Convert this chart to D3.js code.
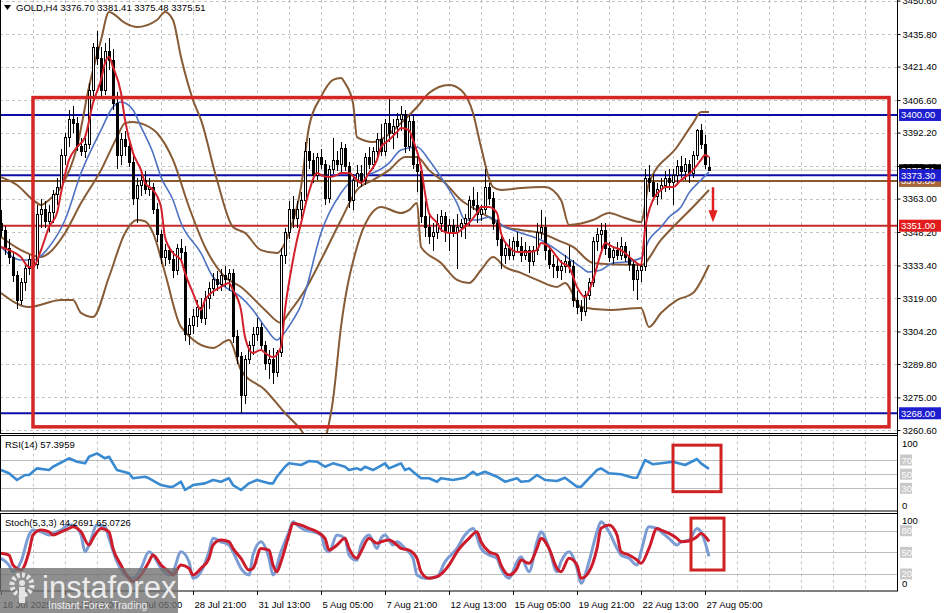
<!DOCTYPE html>
<html><head><meta charset="utf-8">
<script src="https://cdn.jsdelivr.net/npm/d3@7"></script>
<style>body{margin:0;background:#fff;}svg{display:block;font-family:"Liberation Sans",Arial,sans-serif;}</style>
</head><body><svg id="c" width="946" height="613"></svg>
<script>
// ---------------- DATA ----------------
const opens=[3352,3349,3341,3337,3329,3318,3326,3332,3336,3334,3356,3358,3353,3357,3365,3368,3382,3390,3398,3396,3386,3384,3387,3411,3430,3425,3411,3428,3424,3405,3382,3389,3386,3379,3363,3369,3371,3367,3368,3358,3347,3337,3340,3336,3331,3341,3339,3303,3307,3311,3315,3310,3319,3323,3327,3325,3329,3327,3330,3302,3293,3276,3292,3298,3303,3306,3298,3290,3292,3286,3295,3338,3348,3358,3354,3358,3362,3384,3380,3373,3381,3378,3363,3376,3380,3378,3385,3377,3362,3371,3374,3371,3381,3378,3384,3389,3384,3396,3392,3395,3398,3400,3386,3397,3378,3375,3355,3350,3346,3348,3352,3355,3348,3351,3348,3350,3352,3354,3362,3360,3356,3358,3368,3363,3352,3345,3338,3341,3338,3344,3342,3338,3340,3335,3340,3348,3350,3340,3334,3333,3331,3333,3335,3333,3318,3315,3313,3320,3326,3344,3347,3349,3341,3337,3340,3338,3342,3337,3334,3327,3331,3333,3372,3370,3364,3367,3369,3372,3370,3373,3377,3375,3378,3374,3382,3393,3387,3376.70];
const highs=[3358,3351,3345,3340,3331,3328,3334,3338,3340,3360,3363,3362,3360,3367,3372,3385,3392,3402,3404,3399,3390,3390,3414,3432,3437,3430,3432,3434,3429,3410,3392,3393,3390,3382,3372,3374,3375,3372,3370,3361,3349,3343,3342,3340,3343,3345,3342,3310,3314,3318,3319,3322,3326,3330,3331,3332,3333,3332,3332,3305,3295,3294,3300,3306,3310,3308,3300,3296,3297,3296,3341,3350,3362,3364,3362,3366,3388,3390,3383,3383,3385,3380,3378,3390,3384,3388,3387,3379,3374,3378,3378,3383,3386,3386,3392,3396,3398,3408,3398,3401,3404,3402,3400,3400,3382,3376,3362,3356,3352,3356,3358,3357,3354,3354,3356,3354,3356,3364,3368,3366,3360,3376,3370,3366,3354,3348,3344,3345,3346,3348,3346,3344,3342,3342,3352,3358,3355,3342,3338,3337,3336,3338,3342,3336,3322,3318,3322,3328,3346,3350,3352,3352,3344,3342,3344,3346,3344,3340,3336,3334,3336,3376,3378,3374,3370,3372,3375,3376,3376,3380,3382,3381,3380,3384,3394,3396,3391,3381.41];
const lows=[3346,3338,3334,3326,3314,3316,3322,3329,3330,3332,3350,3350,3348,3352,3360,3366,3378,3386,3392,3384,3382,3381,3385,3408,3422,3408,3409,3420,3402,3376,3378,3382,3377,3360,3352,3364,3365,3364,3356,3344,3334,3333,3334,3328,3329,3336,3300,3298,3303,3306,3308,3307,3314,3320,3322,3322,3324,3322,3299,3290,3268,3272,3290,3294,3300,3296,3287,3283,3281,3284,3293,3334,3345,3350,3350,3352,3360,3376,3370,3371,3376,3360,3361,3374,3375,3374,3375,3359,3358,3368,3368,3369,3376,3376,3381,3382,3382,3388,3385,3390,3393,3383,3384,3376,3366,3352,3346,3343,3340,3345,3348,3344,3340,3346,3332,3346,3345,3351,3358,3352,3353,3356,3360,3349,3342,3332,3334,3336,3336,3340,3335,3336,3330,3333,3338,3345,3336,3332,3328,3328,3327,3330,3330,3315,3312,3309,3311,3318,3324,3340,3340,3338,3335,3334,3336,3336,3335,3331,3322,3318,3326,3331,3366,3362,3360,3363,3366,3367,3360,3370,3372,3371,3370,3372,3380,3385,3376,3375.48];
const closes=[3349,3341,3337,3329,3318,3326,3332,3336,3334,3356,3358,3353,3357,3365,3368,3382,3390,3398,3396,3386,3384,3387,3411,3430,3425,3411,3428,3424,3405,3382,3389,3386,3379,3363,3369,3371,3367,3368,3358,3347,3337,3340,3336,3331,3341,3339,3303,3307,3311,3315,3310,3319,3323,3327,3325,3329,3327,3330,3302,3293,3276,3292,3298,3303,3306,3298,3290,3292,3286,3295,3338,3348,3358,3354,3358,3362,3384,3380,3373,3381,3378,3363,3376,3380,3378,3385,3377,3362,3371,3374,3371,3381,3378,3384,3389,3384,3396,3392,3395,3398,3400,3386,3397,3378,3375,3355,3350,3346,3348,3352,3355,3348,3351,3348,3350,3352,3354,3362,3360,3356,3358,3368,3363,3352,3345,3338,3341,3338,3344,3342,3338,3340,3335,3340,3348,3350,3340,3334,3333,3331,3333,3335,3333,3318,3315,3313,3320,3326,3344,3347,3349,3341,3337,3340,3338,3342,3337,3334,3327,3331,3333,3372,3370,3364,3367,3369,3372,3370,3373,3377,3375,3378,3374,3382,3393,3387,3378,3375.51];

// [bar, price]
const fastMA=[[0,3341.6],[2,3340.2],[5,3337.1],[7,3332.7],[8,3332.7],[10,3340.2],[12,3350.4],[14,3356.6],[15,3365.5],[17,3380.1],[19,3385.8],[21,3390.2],[23,3405.3],[25,3415.5],[26,3423],[27,3425.6],[28,3421.2],[30,3409.7],[31,3397.8],[33,3383.2],[35,3375.6],[36,3369.9],[38,3366.8],[40,3359.3],[41,3346],[43,3338.9],[45,3335.8],[46,3330.1],[48,3321.2],[50,3313.7],[51,3318.1],[55,3323.9],[57,3325.6],[58,3322.5],[60,3313.7],[61,3301.8],[63,3294.7],[65,3296],[66,3294.7],[68,3292.9],[70,3297.3],[71,3313.7],[73,3335.8],[74,3344.7],[75,3352],[77,3366],[79,3374.3],[80,3373.4],[82,3372.5],[84,3373.4],[85,3374.3],[87,3374.3],[89,3371.2],[90,3369.9],[92,3374.3],[94,3380.1],[95,3385.8],[97,3388.9],[99,3392.5],[100,3394.2],[102,3393.3],[103,3388.9],[105,3377],[106,3365.5],[107,3356.6],[109,3352.2],[110,3349.1],[112,3347.8],[114,3347.8],[115,3349.1],[117,3352.2],[119,3356.6],[120,3359.3],[122,3359.3],[124,3356.6],[125,3347.8],[127,3341.6],[129,3339.4],[132,3339.4],[134,3340.2],[135,3343.3],[137,3341.6],[139,3337.1],[140,3334.9],[142,3332.7],[144,3323.9],[146,3319.4],[148,3327],[150,3338.9],[151,3343.3],[153,3341.6],[155,3340.2],[156,3338.9],[158,3335.8],[160,3333.6],[161,3349.1],[163,3362.4],[165,3366.8],[166,3368.1],[168,3368.1],[170,3371.2],[171,3372.5],[173,3375.6],[175,3380.1],[176,3382.3],[177,3381.4]];
const slowMA=[[0,3341.6],[5,3335.8],[8,3335.8],[12,3341.6],[16,3353.5],[20,3374.3],[25,3393.3],[28,3403.5],[30,3405.7],[33,3402.2],[35,3394.7],[38,3383.2],[40,3372.5],[43,3362.4],[45,3352.2],[50,3338.9],[53,3328.3],[56,3323.9],[60,3319.4],[63,3313.7],[66,3306.2],[69,3300.4],[70,3301.8],[73,3309.3],[75,3315.9],[76,3321.2],[80,3347.8],[85,3365.5],[89,3372.5],[93,3374.3],[97,3378.7],[100,3384.5],[104,3385.8],[107,3380.1],[110,3372.5],[114,3361],[116,3353.5],[119,3353.5],[122,3354.8],[126,3350.4],[130,3347.8],[135,3344.7],[140,3338.9],[145,3332.7],[147,3330.5],[150,3331.4],[153,3334.5],[156,3334.9],[160,3336.7],[162,3344.7],[165,3350.4],[167,3354.8],[170,3359.3],[172,3365.5],[175,3371.2],[177,3374.8]];
const upperBand=[[0,3372.5],[4,3369],[8,3362.4],[10,3360.2],[12,3362.4],[15,3368.1],[19,3385.8],[22,3412.4],[25,3433.2],[27,3445.6],[31,3440.7],[34,3438.9],[39,3442],[41,3445.6],[43,3442],[45,3425.6],[48,3406.6],[50,3397.8],[54,3371.2],[58,3350.4],[61,3347.8],[65,3340.2],[69,3338.9],[72,3347.8],[75,3368.1],[77,3394.7],[80,3408],[83,3415.5],[85,3416.4],[86,3414.1],[88,3405.3],[89,3390.2],[93,3388],[96,3390.2],[100,3396.4],[104,3403.5],[107,3409.7],[112,3413.3],[115,3411],[118,3400.9],[120,3385.8],[123,3368.1],[125,3366.8],[130,3367.7],[136,3368.1],[140,3362.4],[142,3351.3],[148,3353.5],[152,3356.6],[156,3354.4],[160,3352.6],[162,3369.9],[169,3385.8],[173,3396.4],[175,3401.3],[177,3401.3]];
const midBand=[[0,3346],[5,3340.2],[10,3337.1],[12,3338.9],[16,3347.8],[20,3361],[25,3375.6],[29,3390.2],[31,3396.4],[33,3396.9],[36,3395.6],[39,3392],[43,3380.1],[47,3359.3],[51,3341.6],[56,3328.3],[60,3323.9],[66,3313.7],[70,3308],[72,3312.4],[76,3322.5],[80,3335.8],[85,3353.5],[89,3366.8],[93,3371.2],[97,3375.6],[101,3381.4],[104,3381.4],[107,3375.6],[111,3369.9],[115,3362.4],[119,3357.9],[122,3354.8],[126,3350.4],[130,3349.1],[135,3347.8],[139,3344.7],[143,3341.6],[148,3334.5],[154,3333.8],[160,3333.6],[165,3344.7],[169,3352.2],[173,3359.3],[177,3366.8]];
const lowerBand=[[0,3321.2],[7,3315],[15,3318.1],[18,3318.1],[20,3312.4],[23,3310.6],[27,3328.3],[31,3347.8],[34,3353.5],[36,3353],[38,3347.8],[41,3330.1],[45,3306.2],[53,3296.9],[57,3300.4],[60,3287.1],[66,3278.3],[71,3268.1],[75,3260.6],[79,3249.5],[81,3256.2],[83,3273.9],[85,3306.2],[89,3341.6],[92,3354.8],[95,3359.3],[100,3356.6],[102,3357.9],[104,3361],[105,3341.6],[110,3334.5],[114,3327],[117,3325.6],[120,3331.4],[123,3337.1],[126,3332.7],[130,3330.1],[134,3327],[139,3323.9],[141,3325.6],[145,3315],[152,3313.7],[160,3314.6],[162,3306.2],[165,3312.4],[169,3318.1],[173,3321.2],[177,3333.6]];

// [bar, value]
const rsi=[[0,55.8],[2,51.2],[4,41.7],[6,48.8],[7,48.8],[9,58.2],[12,55.8],[13,60.5],[17,72.4],[19,67.6],[21,65.3],[22,74.6],[24,79.4],[26,72.4],[27,74.6],[29,55.8],[32,51.2],[33,44.1],[36,46.4],[37,44.1],[40,34.6],[42,32.2],[43,32.2],[45,39.3],[46,27.6],[48,34.6],[51,37],[53,41.7],[55,39.3],[57,44.1],[58,34.6],[60,27.6],[62,37],[64,41.7],[67,37],[68,37],[69,46.4],[71,60.5],[72,65.3],[75,62.9],[77,68.5],[79,67.6],[81,60.5],[83,65.3],[86,60.5],[87,55.8],[89,58.2],[90,55.8],[91,60.5],[93,55.8],[96,65.3],[97,58.2],[99,62.9],[100,65.3],[101,55.8],[102,58.2],[103,53.4],[105,44.1],[107,44.1],[109,39.3],[110,44.1],[113,41.7],[116,45],[118,53.4],[119,48.8],[121,53.4],[124,46.4],[126,39.3],[129,44.1],[130,39.3],[132,40.3],[134,48.8],[136,41.7],[139,40.3],[141,45],[144,32.2],[145,32.2],[147,44.1],[149,55.8],[150,58.2],[152,51.2],[155,49.8],[158,45],[159,45],[161,70],[163,63.9],[165,65.3],[168,67.6],[171,62.9],[174,71.4],[175,65.3],[177,57.4]];
const stochMain=[[0,41.7],[2,32.4],[3,23.1],[5,37],[7,74],[8,80.9],[10,78.5],[12,74],[13,76.3],[15,80.9],[17,87.8],[18,87.8],[20,74],[21,50.8],[22,60.1],[24,87.8],[26,85.5],[27,69.4],[29,37],[31,18.6],[33,14],[35,27.8],[37,50.8],[38,46.3],[40,27.8],[42,18.6],[43,23.1],[45,50.8],[47,37],[48,14],[50,23.1],[52,50.8],[53,69.4],[55,64.7],[57,60.1],[58,50.8],[60,27.8],[62,18.6],[63,46.3],[65,64.7],[67,41.7],[68,18.6],[70,50.8],[72,78.5],[73,92.4],[74,87.8],[76,80.9],[78,78.5],[80,74],[81,55.5],[82,50.8],[84,74],[86,69.4],[87,46.3],[89,39],[90,60.1],[92,74],[94,55.5],[95,69.4],[96,74],[98,60.1],[99,64.7],[101,55.5],[103,41.7],[104,18.6],[106,14],[109,16.2],[111,37],[114,55.5],[116,74],[118,83.2],[120,55.5],[122,46.3],[124,41.7],[125,27.8],[127,14],[129,37],[130,43.9],[132,23.1],[134,64.7],[135,78.5],[137,55.5],[139,23.1],[140,37],[142,50.8],[144,27.8],[145,7.1],[147,37],[149,78.5],[150,92.4],[152,78.5],[154,55.5],[155,46.3],[157,41.7],[159,32.4],[160,50.8],[162,85.5],[164,83.2],[165,78.5],[167,69.4],[169,60.1],[170,64.7],[172,67],[174,83.2],[175,78.5],[177,44.3]];
const stochSignal=[[0,48.6],[2,46.3],[3,32.4],[5,25.5],[7,50.8],[8,74],[10,80.9],[12,78.5],[13,74],[15,78.5],[17,83.2],[18,85.5],[20,78.5],[22,60.1],[23,69.4],[25,83.2],[27,78.5],[28,55.5],[30,32.4],[32,14],[33,9.3],[35,18.6],[37,37],[38,46.3],[40,32.4],[42,23.1],[43,18.6],[45,32.4],[47,27.8],[48,18.6],[50,27.8],[52,41.7],[53,60.1],[55,67],[57,64.7],[58,55.5],[60,41.7],[62,25.5],[63,27.8],[65,55.5],[67,53.2],[68,32.4],[69,23.1],[70,37],[72,74],[73,90.2],[75,87.8],[77,83.2],[79,78.5],[81,69.4],[82,53.2],[84,60.1],[86,69.4],[87,55.5],[89,41.7],[90,50.8],[92,69.4],[94,62.5],[95,64.7],[97,67],[99,60.1],[100,55.5],[102,53.2],[104,41.7],[105,23.1],[107,14],[109,16.2],[112,32.4],[114,50.8],[117,69.4],[119,78.5],[120,64.7],[122,50.8],[124,46.3],[125,32.4],[127,18.6],[129,27.8],[130,39.3],[132,34.8],[134,55.5],[135,69.4],[137,55.5],[139,27.8],[140,23.1],[142,41.7],[144,32.4],[145,14],[147,23.1],[149,55.5],[150,83.2],[152,87.8],[154,74],[155,50.8],[157,46.3],[159,39.3],[160,34.8],[162,55.5],[164,83.2],[165,80.9],[167,76.3],[169,69.4],[170,64.7],[172,65.7],[174,71.6],[175,76.3],[177,65.1]];

const priceTicks=["3450.60","3435.80","3421.40","3406.60","3392.20","3377.40","3363.00","3348.20","3333.40","3319.00","3304.20","3289.80","3275.00","3260.60"];
const timeTickBars=[0,16,32,48,64,80,96,112,128,144,160,176];
const timeLabels=["18 Jul 2025","21 Jul 13:00","24 Jul 05:00","28 Jul 21:00","31 Jul 13:00","5 Aug 05:00","7 Aug 21:00","12 Aug 13:00","15 Aug 05:00","19 Aug 21:00","22 Aug 13:00","27 Aug 05:00"];
const levelNames=["blue","blue","brown","red","blue"];
const levelPrices=[3400.00,3373.30,3370.80,3351.00,3268.00];
const bidPrice=3375.51;
const rsiLevels=[70,50,30];
const stochLevels=[80,50,20];
// annotation: box [barFrom, barTo, priceTop, priceBottom], arrow [bar, priceFrom, priceTo]
const zoneBox=[8,222,3407.7,3262.0];
const arrowSpec=[178,3368,3352.5];
const rsiBox=[168,180,91,25.2];
const stochBox=[172.5,180.75,97.5,25.5];

// ---------------- DRAW ----------------
const svg=d3.select("#c");
const AX=897.5, MAIN=[0,433], RSIP=[435.5,511], STOP=[513.5,591];
const x=d3.scaleLinear().domain([0,224]).range([1,897]);
const y=d3.scaleLinear().domain([3260.6,3450.6]).range([430,0.6]);
const yR=d3.scaleLinear().domain([0,100]).range([509.5,438.8]);
const yS=d3.scaleLinear().domain([0,100]).range([588.4,516.3]);
const colors={blue:"#0c0ca8",brown:"#8b5a2b",red:"#c42828"};
const boxColors={blue:"#1e1ecf",brown:"#a8673a",red:"#e21c1c"};

const defs=svg.append("defs");
defs.append("clipPath").attr("id","cm").append("rect").attr("x",0).attr("y",0).attr("width",AX).attr("height",MAIN[1]);
defs.append("clipPath").attr("id","cr").append("rect").attr("x",0).attr("y",RSIP[0]).attr("width",AX).attr("height",RSIP[1]-RSIP[0]);
defs.append("clipPath").attr("id","cs").append("rect").attr("x",0).attr("y",STOP[0]).attr("width",AX).attr("height",STOP[1]-STOP[0]);

// vertical grid
const vgrid=d3.range(8,224,8);
[[MAIN[0],MAIN[1]],RSIP,STOP].forEach(p=>{
  svg.append("g").selectAll("line").data(vgrid).join("line")
    .attr("x1",d=>Math.round(x(d))+0.5).attr("x2",d=>Math.round(x(d))+0.5)
    .attr("y1",p[0]).attr("y2",p[1]).attr("stroke","#c4c4c4").attr("stroke-dasharray","3,3");
});
// horizontal grid main
svg.append("g").selectAll("line").data(priceTicks.map(Number)).join("line")
  .attr("x1",0).attr("x2",AX).attr("y1",d=>Math.round(y(d))+0.5).attr("y2",d=>Math.round(y(d))+0.5)
  .attr("stroke","#c4c4c4").attr("stroke-dasharray","3,3");

// level lines rsi/stoch
svg.append("g").selectAll("line").data(rsiLevels).join("line")
  .attr("x1",0).attr("x2",AX).attr("y1",d=>Math.round(yR(d))+0.5).attr("y2",d=>Math.round(yR(d))+0.5).attr("stroke","#bdbdbd");
svg.append("g").selectAll("line").data(stochLevels).join("line")
  .attr("x1",0).attr("x2",AX).attr("y1",d=>Math.round(yS(d))+0.5).attr("y2",d=>Math.round(yS(d))+0.5).attr("stroke","#bdbdbd");

// main plot
const gm=svg.append("g").attr("clip-path","url(#cm)");
const lineP=d3.line().x(d=>x(d[0])).y(d=>y(d[1])).curve(d3.curveMonotoneX);
// horizontal levels
gm.selectAll("line.lvl").data(levelPrices).join("line").attr("class","lvl")
  .attr("x1",0).attr("x2",AX).attr("y1",d=>y(d)).attr("y2",d=>y(d))
  .attr("stroke",(d,i)=>colors[levelNames[i]]).attr("stroke-width",2);
gm.append("line").attr("x1",0).attr("x2",AX).attr("y1",y(bidPrice)).attr("y2",y(bidPrice)).attr("stroke","#c8c8c8").attr("stroke-width",1);

[upperBand,midBand,lowerBand].forEach(b=>gm.append("path").datum(b).attr("d",lineP).attr("fill","none").attr("stroke","#875b35").attr("stroke-width",2));
gm.append("path").datum(slowMA).attr("d",lineP).attr("fill","none").attr("stroke","#4e72c2").attr("stroke-width",1.6);

// candles
const idx=d3.range(closes.length);
const cg=gm.append("g").attr("shape-rendering","crispEdges");
cg.selectAll("line").data(idx).join("line")
  .attr("x1",i=>Math.round(x(i))+0.5).attr("x2",i=>Math.round(x(i))+0.5)
  .attr("y1",i=>y(highs[i])).attr("y2",i=>y(lows[i])).attr("stroke","#000");
cg.selectAll("rect").data(idx).join("rect")
  .attr("x",i=>Math.round(x(i))-0.5).attr("width",2)
  .attr("y",i=>y(Math.max(opens[i],closes[i])))
  .attr("height",i=>Math.max(1,Math.abs(y(opens[i])-y(closes[i]))))
  .attr("fill",i=>closes[i]>=opens[i]?"#fff":"#000").attr("stroke","#000");

gm.append("path").datum(fastMA).attr("d",lineP).attr("fill","none").attr("stroke","#d2212b").attr("stroke-width",2);

// zone rectangle
gm.append("rect").attr("x",x(zoneBox[0])).attr("y",y(zoneBox[2]))
  .attr("width",x(zoneBox[1])-x(zoneBox[0])).attr("height",y(zoneBox[3])-y(zoneBox[2]))
  .attr("fill","none").attr("stroke","#d52626").attr("stroke-width",3.5);
// arrow
const ax0=x(arrowSpec[0]), ay0=y(arrowSpec[1]), ay1=y(arrowSpec[2]);
gm.append("line").attr("x1",ax0).attr("x2",ax0).attr("y1",ay0).attr("y2",ay1-10).attr("stroke","#e11f1f").attr("stroke-width",2.5);
gm.append("path").attr("d",`M${ax0-4.5},${ay1-12}L${ax0+4.5},${ay1-12}L${ax0},${ay1}Z`).attr("fill","#e11f1f");

// RSI
const gr=svg.append("g").attr("clip-path","url(#cr)");
gr.append("path").datum(rsi).attr("d",d3.line().x(d=>x(d[0])).y(d=>yR(d[1])))
  .attr("fill","none").attr("stroke","#3a8ad2").attr("stroke-width",2.6).attr("stroke-linejoin","round");
// Stoch
const gs=svg.append("g").attr("clip-path","url(#cs)");
const lineS=d3.line().x(d=>x(d[0])).y(d=>yS(d[1])).curve(d3.curveMonotoneX);
gs.append("path").datum(stochMain).attr("d",lineS).attr("fill","none").attr("stroke","#7b9dd3").attr("stroke-width",3);
gs.append("path").datum(stochSignal).attr("d",lineS).attr("fill","none").attr("stroke","#cc1c2c").attr("stroke-width",3);

// annotation boxes in sub windows
svg.append("rect").attr("x",x(rsiBox[0])).attr("y",yR(rsiBox[2])).attr("width",x(rsiBox[1])-x(rsiBox[0])).attr("height",yR(rsiBox[3])-yR(rsiBox[2]))
  .attr("fill","none").attr("stroke","#cf2222").attr("stroke-width",3);
svg.append("rect").attr("x",x(stochBox[0])).attr("y",yS(stochBox[2])).attr("width",x(stochBox[1])-x(stochBox[0])).attr("height",yS(stochBox[3])-yS(stochBox[2]))
  .attr("fill","none").attr("stroke","#cf2222").attr("stroke-width",3);

// panel borders
[[0.5,MAIN[1]],RSIP,STOP].forEach((p,k)=>{
  svg.append("rect").attr("x",0.5).attr("y",k==0?-2:p[0]).attr("width",AX-0.5).attr("height",k==0?p[1]+2.5:p[1]-p[0])
    .attr("fill","none").attr("stroke","#000").attr("stroke-width",1);
});

// price axis
const pa=svg.append("g").attr("transform",`translate(${AX},0)`)
  .call(d3.axisRight(y).tickValues(priceTicks.map(Number)).tickFormat(d=>d.toFixed(2)).tickSize(3).tickPadding(2));
pa.select(".domain").remove();
pa.selectAll("text").attr("font-size",9.5).attr("font-family","Liberation Sans, Arial, sans-serif").attr("fill","#000");
pa.selectAll("line").attr("stroke","#000");

// level boxes
const lbl=svg.append("g");
const order=[2,0,3,4];
order.forEach(i=>{
  const cy=y(levelPrices[i]);
  lbl.append("rect").attr("x",899).attr("y",cy-6).attr("width",42).attr("height",12).attr("fill",boxColors[levelNames[i]]);
  lbl.append("text").attr("x",901).attr("y",cy+3.5).attr("font-size",9.5).attr("fill","#fff").text(levelPrices[i].toFixed(2));
});
{
  const cy=y(bidPrice);
  lbl.append("rect").attr("x",899).attr("y",cy-6).attr("width",42).attr("height",12).attr("fill","#000");
  lbl.append("text").attr("x",901).attr("y",cy+3.5).attr("font-size",9.5).attr("fill","#fff").text(bidPrice.toFixed(2));
  const cb=y(levelPrices[1]);
  lbl.append("rect").attr("x",899).attr("y",cb-6).attr("width",42).attr("height",12).attr("fill",boxColors.blue);
  lbl.append("text").attr("x",901).attr("y",cb+3.5).attr("font-size",9.5).attr("fill","#fff").text(levelPrices[1].toFixed(2));
}

// sub-window scale labels
function subLabels(sc,levels){
  const g=svg.append("g").attr("font-size",9.5);
  g.append("text").attr("x",902).attr("y",sc(100)+8).text("100");
  g.append("text").attr("x",902).attr("y",sc(0)-1).text("0");
  levels.forEach(v=>{
    g.append("rect").attr("x",900).attr("y",sc(v)-5.5).attr("width",12).attr("height",11).attr("fill","#c9c9c9");
    g.append("text").attr("x",901.5).attr("y",sc(v)+3.5).attr("fill","#fff").text(v);
  });
}
subLabels(yR,rsiLevels);
subLabels(yS,stochLevels);

// right axis line
svg.append("line").attr("x1",AX).attr("x2",AX).attr("y1",0).attr("y2",STOP[1]).attr("stroke","#000");

// time axis
const ta=svg.append("g").attr("transform",`translate(0,${STOP[1]})`)
  .call(d3.axisBottom(x).tickValues(timeTickBars).tickFormat(d=>timeLabels[timeTickBars.indexOf(d)]).tickSize(4).tickPadding(6));
ta.select(".domain").remove();
ta.selectAll("text").attr("text-anchor","start").attr("dx",1).attr("font-size",9.5).attr("font-family","Liberation Sans, Arial, sans-serif").attr("fill","#000");
ta.selectAll("line").attr("stroke","#000");

// titles
svg.append("path").attr("d","M4,5L11,5L7.5,10Z").attr("fill","#000");
svg.append("text").attr("x",16).attr("y",11).attr("font-size",9.5).attr("fill","#000")
  .text("GOLD,H4  "+[opens[177],highs[177],lows[177],closes[177]].map(v=>v.toFixed(2)).join(" "));
svg.append("text").attr("x",5).attr("y",448).attr("font-size",9.5).text("RSI(14) 57.3959");
svg.append("text").attr("x",5).attr("y",526).attr("font-size",9.5).text("Stoch(5,3,3) 44.2691 65.0726");

// watermark
const wm=svg.append("g");
wm.append("rect").attr("x",0).attr("y",568).attr("width",178).attr("height",45).attr("fill","#707070").attr("opacity",0.78);
wm.append("circle").attr("cx",22).attr("cy",585).attr("r",10).attr("fill","none").attr("stroke","#e4e4e4").attr("stroke-width",5).attr("stroke-dasharray","3,2.2");
wm.append("circle").attr("cx",22).attr("cy",583).attr("r",3).attr("fill","#e4e4e4");
wm.append("rect").attr("x",19).attr("y",587).attr("width",6).attr("height",16).attr("fill","#e4e4e4");
wm.append("text").attr("x",42).attr("y",598).attr("font-size",31).attr("fill","#ececec").text("instaforex");
wm.append("text").attr("x",48).attr("y",609).attr("font-size",10.5).attr("fill","#ececec").text("Instant Forex Trading");
</script></body></html>
